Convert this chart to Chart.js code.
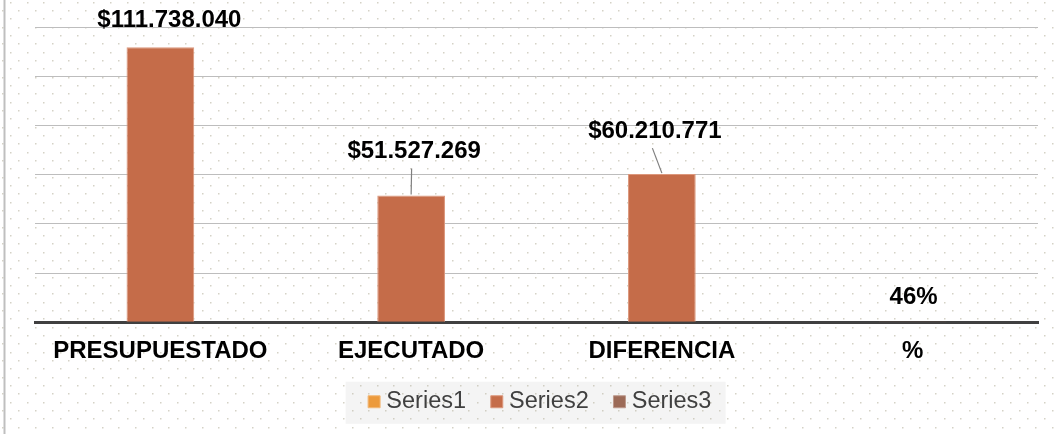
<!DOCTYPE html>
<html>
<head>
<meta charset="utf-8">
<script src="https://cdn.jsdelivr.net/npm/chart.js@4.4.0/dist/chart.umd.min.js"></script>
<style>
  html, body { margin: 0; padding: 0; background: #fff; }
  #wrap { width: 1059px; height: 434px; position: relative; }
</style>
</head>
<body>
<div id="wrap"><canvas id="myChart"></canvas></div>
<script>
//Chart Data
const categories = ["PRESUPUESTADO", "EJECUTADO", "DIFERENCIA", "%"];
const seriesNames = ["Series1", "Series2", "Series3"];
const series1 = [];
const series2 = [111738040, 51527269, 60210771, 0.46];
const series3 = [];
const yTicks = [0, 20000000, 40000000, 60000000, 80000000, 100000000, 120000000];

//Label placement (offset of label centre from bar top) and leader lines
const labelOffsets = [[9, -27], [3, -44], [-7, -43], [1, -25]];
const leaders = [false, true, true, false];

const ctx = document.getElementById("myChart").getContext("2d");
const FONT = "'Liberation Sans', Arial, sans-serif";
const LEGEND_SHIFT = 6;

function formatValue(v) {
  if (v < 1) return Math.round(v * 100) + "%";
  return "$" + Math.round(v).toString().replace(/\B(?=(\d{3})+(?!\d))/g, ".");
}

//Dotted background, left border and legend panel
const backgroundPlugin = {
  id: "background",
  afterLayout(chart) {
    //nudge the legend a little to the right
    chart.legend.left += LEGEND_SHIFT;
    chart.legend.right += LEGEND_SHIFT;
  },
  beforeDraw(chart) {
    const c = chart.ctx;
    const w = chart.width, h = chart.height;
    c.save();
    c.fillStyle = "#ffffff";
    c.fillRect(0, 0, w, h);

    const lg = chart.legend;
    if (lg && lg.legendHitBoxes.length) {
      const first = lg.legendHitBoxes[0];
      const left = first.left + LEGEND_SHIFT - 34;
      const cy = first.top + first.height / 2;
      c.fillStyle = "#f4f4f4";
      c.fillRect(left, cy - 20, 380, 42);
    }

    c.fillStyle = "rgba(185,180,160,0.6)";
    const dx = 16.67, dy = 8.33;
    let row = 0;
    for (let y = 1.7; y < h; y += dy, row++) {
      const off = row % 2 ? 1.7 : 10;
      for (let x = off; x < w; x += dx) {
        c.fillRect(Math.round(x), Math.round(y), 1.5, 1.5);
      }
    }

    c.strokeStyle = "#bfbfbf";
    c.lineWidth = 2;
    c.beginPath();
    c.moveTo(4.5, 0);
    c.lineTo(4.5, h);
    c.stroke();
    c.restore();
  },
};

//Value labels above bars
const labelPlugin = {
  id: "valueLabels",
  afterDatasetsDraw(chart) {
    const meta = chart.getDatasetMeta(1);
    const c = chart.ctx;
    c.save();
    c.font = "bold 24px " + FONT;
    c.fillStyle = "#000000";
    c.textAlign = "center";
    c.textBaseline = "middle";
    meta.data.forEach((bar, i) => {
      const lx = bar.x + labelOffsets[i][0];
      const ly = bar.y + labelOffsets[i][1];
      if (leaders[i]) {
        c.strokeStyle = "#7f7f7f";
        c.lineWidth = 1.2;
        c.beginPath();
        c.moveTo(lx - 2.5, ly + 17);
        c.lineTo(bar.x, bar.y - 1);
        c.stroke();
      }
      c.fillText(formatValue(series2[i]), lx, ly);
    });
    c.restore();
  },
};

const chartData = {
  labels: categories,
  datasets: [
    {
      label: seriesNames[0],
      data: series1,
      backgroundColor: "#ec9a3c",
      borderColor: "#f2b877",
      borderWidth: 1,
      grouped: false,
    },
    {
      label: seriesNames[1],
      data: series2,
      backgroundColor: "#c56c49",
      borderColor: "#dc977c",
      borderWidth: 1,
      grouped: false,
    },
    {
      label: seriesNames[2],
      data: series3,
      backgroundColor: "#9c6a57",
      borderColor: "#bd998b",
      borderWidth: 1,
      grouped: false,
    },
  ],
};

const config = {
  type: "bar",
  data: chartData,
  options: {
    responsive: true,
    maintainAspectRatio: false,
    animation: false,
    categoryPercentage: 0.3,
    barPercentage: 0.9,
    layout: { padding: { top: 27, left: 35, right: 21, bottom: 10.5 } },
    scales: {
      x: {
        grid: { display: false, drawTicks: false },
        border: { color: "#404040", width: 3 },
        afterFit(scale) {
          scale.height = 37.5;
        },
        ticks: {
          color: "#000000",
          padding: 15,
          font: { family: FONT, size: 24, weight: "bold", lineHeight: 1.2 },
          maxRotation: 0,
        },
      },
      y: {
        min: 0,
        max: yTicks[yTicks.length - 1],
        afterBuildTicks(axis) {
          axis.ticks = yTicks.map((v) => ({ value: v }));
        },
        ticks: { display: false },
        border: { display: false },
        grid: {
          drawTicks: false,
          color: (c) => (c.tick && c.tick.value === 0 ? "rgba(0,0,0,0)" : "#bdbdbd"),
          lineWidth: 1,
        },
      },
    },
    plugins: {
      tooltip: { enabled: false },
      legend: {
        position: "bottom",
        labels: {
          usePointStyle: true,
          pointStyle: "rect",
          boxWidth: 1,
          boxHeight: 12,
          padding: 30.25,
          color: "#404040",
          font: { family: FONT, size: 23.5 },
        },
      },
    },
  },
  plugins: [backgroundPlugin, labelPlugin],
};

const myChart = new Chart(ctx, config);
</script>
</body>
</html>
